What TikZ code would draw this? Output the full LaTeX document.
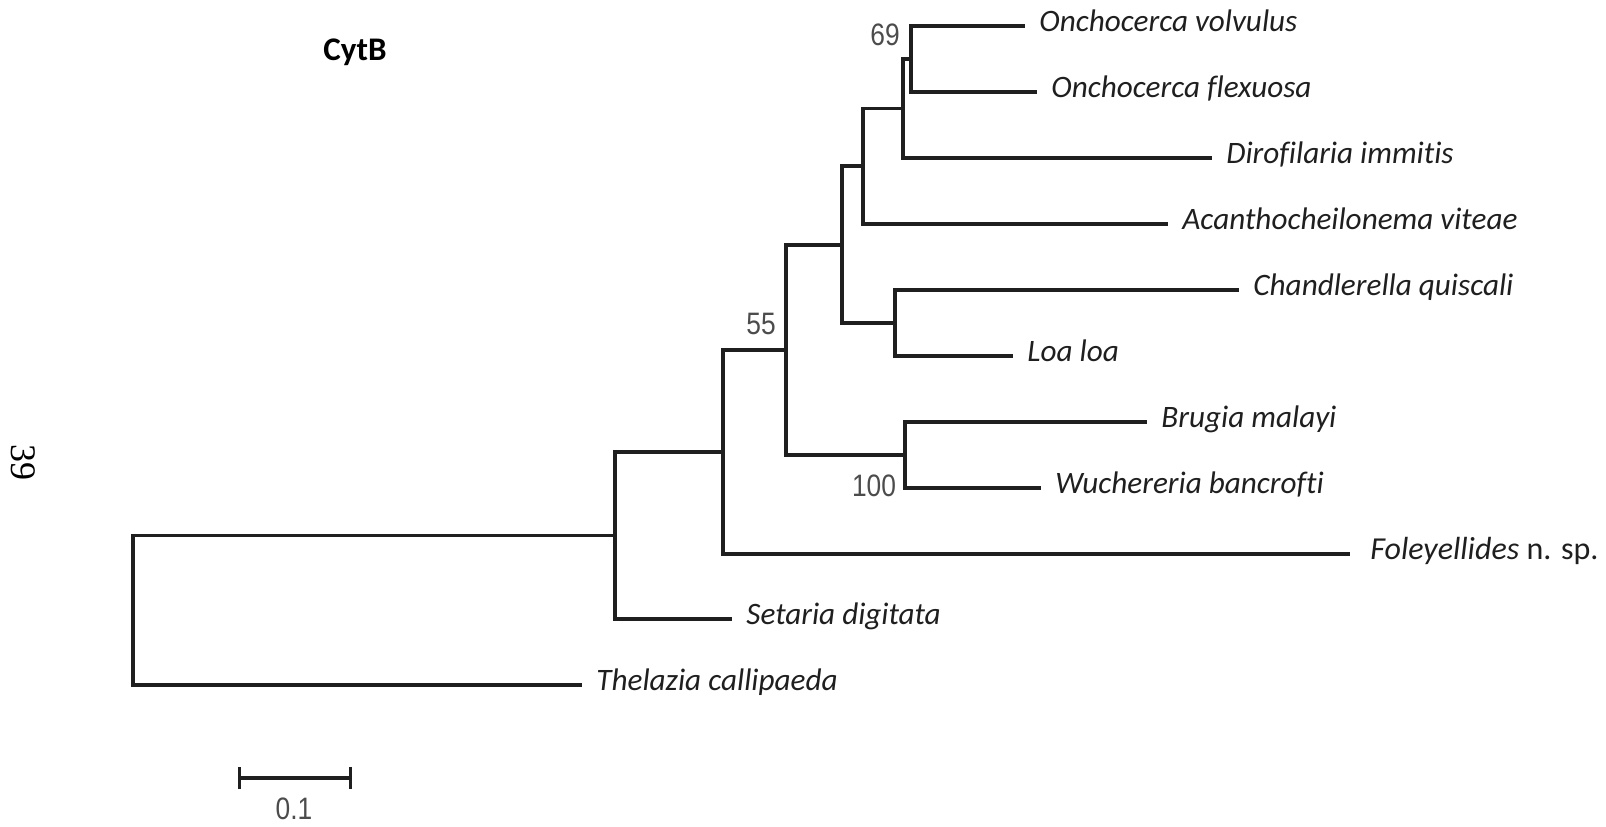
\documentclass[tikz,border=0pt]{standalone}
\usepackage{fontspec}
\setmainfont{Carlito}[Ligatures={CommonOff,RareOff}]
\newfontfamily\bootfont[FakeStretch=0.85]{Liberation Sans}
\newfontfamily\pagefont{Liberation Serif}
\usetikzlibrary{arrows.meta}

\begin{document}
\begin{tikzpicture}[x=0.5pt,y=-0.5pt,
  branch/.style={line width=1.7pt,draw=black!88},
  taxon/.style={anchor=west,inner xsep=7pt,text=black!88,
    font=\fontsize{15.6}{17}\selectfont\itshape,text height=0.7em,text depth=0.2em},
  boot/.style={text=black!70,font=\fontsize{15.5}{17}\bootfont}]
\useasboundingbox (0,0) rectangle (1606,826);
\node[font=\fontsize{16.5}{18}\selectfont\bfseries] (title) at (355,52) {CytB};
\node[rotate=-90,font=\fontsize{18}{20}\pagefont] (page) at (23,462) {39};
%% inner nodes
\coordinate (root) at (133,610);
\coordinate (nA) at (615,535.5);
\coordinate (nB) at (723,452);
\coordinate (n55) at (786,350);
\coordinate (nFil) at (842,245);
\coordinate (nODA) at (863,166);
\coordinate (nOD) at (903,108.5);
\coordinate (n69) at (911,59);
\coordinate (nCL) at (895,323);
\coordinate (nBW) at (905,455);
%% taxa
\node[taxon] (Ov) at (1025,26) {Onchocerca volvulus};
\node[taxon] (Of) at (1037,92) {Onchocerca flexuosa};
\node[taxon] (Di) at (1212,158) {Dirofilaria immitis};
\node[taxon] (Av) at (1168,224) {Acanthocheilonema viteae};
\node[taxon] (Cq) at (1239,290) {Chandlerella quiscali};
\node[taxon] (Loa) at (1013,356) {Loa loa};
\node[taxon] (Bm) at (1147,422) {Brugia malayi};
\node[taxon] (Wb) at (1041,488) {Wuchereria bancrofti};
\node[taxon,inner xsep=10pt,font=\fontsize{16}{18}\selectfont] (Fol) at (1350,554) {\textit{Foleyellides} n. sp.};
\node[taxon] (Sd) at (732,619) {Setaria digitata};
\node[taxon] (Tc) at (582,685) {Thelazia callipaeda};
%% bootstrap values
\node[boot] (b69) at (885,35) {69};
\node[boot] (b55) at (761,324) {55};
\node[boot] (b100) at (874,486) {100};
%%% branches
\draw[branch] (root) |- (nA);
\draw[branch] (root) |- (Tc.west);
\draw[branch] (nA) |- (nB);
\draw[branch] (nA) |- (Sd.west);
\draw[branch] (nB) |- (n55);
\draw[branch] (nB) |- (Fol.west);
\draw[branch] (n55) |- (nFil);
\draw[branch] (n55) |- (nBW);
\draw[branch] (nFil) |- (nODA);
\draw[branch] (nFil) |- (nCL);
\draw[branch] (nODA) |- (nOD);
\draw[branch] (nODA) |- (Av.west);
\draw[branch] (nOD) |- (n69);
\draw[branch] (nOD) |- (Di.west);
\draw[branch] (n69) |- (Ov.west);
\draw[branch] (n69) |- (Of.west);
\draw[branch] (nCL) |- (Cq.west);
\draw[branch] (nCL) |- (Loa.west);
\draw[branch] (nBW) |- (Bm.west);
\draw[branch] (nBW) |- (Wb.west);
%%% scale bar
\coordinate (sbL) at (238,778);
\coordinate (sbR) at (352,778);
\draw[branch,{Bar[width=11pt]}-{Bar[width=11pt]}] (sbL) -- (sbR);
\node[boot] (sbtext) at (294,809) {0.1};
\end{tikzpicture}
\end{document}
